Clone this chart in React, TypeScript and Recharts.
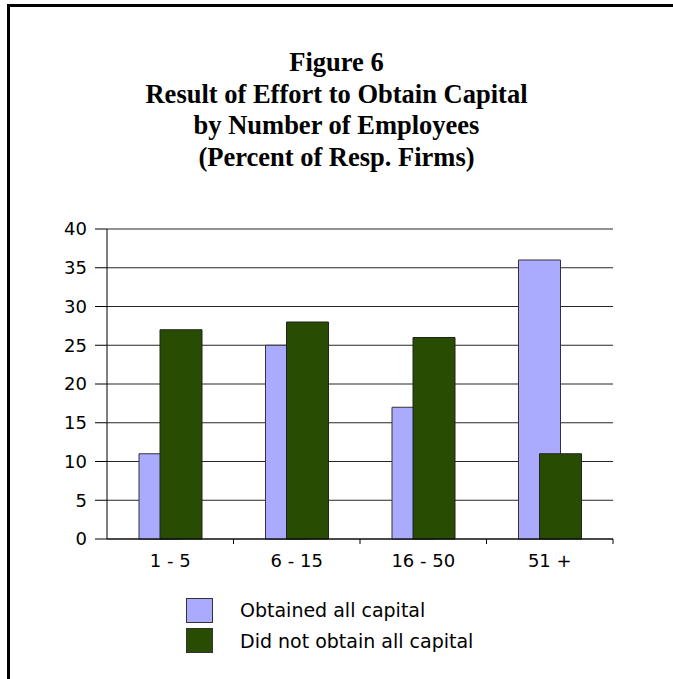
import React from 'react';
import { BarChart, Bar, XAxis, YAxis, CartesianGrid } from 'recharts';

const categories = ['1 - 5', '6 - 15', '16 - 50', '51 +'];
const obtainedAll = [11, 25, 17, 36];
const notObtainedAll = [27, 28, 26, 11];
const yTicks = [0, 5, 10, 15, 20, 25, 30, 35, 40];
const titleLines = [
  'Figure 6',
  'Result of Effort to Obtain Capital',
  'by Number of Employees',
  '(Percent of Resp. Firms)',
];
const seriesNames = ['Obtained all capital', 'Did not obtain all capital'];

const data = categories.map((name, i) => ({
  name,
  obtained: obtainedAll[i],
  notObtained: notObtainedAll[i],
}));

const W = 673;
const H = 679;
const yAxisWidth = 50;
const xAxisHeight = 30;
const margin = { top: 229, right: 60, bottom: 140 - xAxisHeight, left: 57 };
const bandWidth = (W - margin.left - yAxisWidth - margin.right) / categories.length;

const colors = { obtained: '#AAAAFF', notObtained: '#284C02' };
const sans = "'DejaVu Sans', Arial, sans-serif";

function XTick(props: any) {
  const { x, y, payload } = props;
  const right = x + bandWidth / 2;
  return (
    <g>
      <line x1={right} y1={y - 8} x2={right} y2={y - 3} stroke="#000" />
      <text x={x} y={y + 20} textAnchor="middle" fontSize={18} fill="#000" fontFamily={sans}>
        {payload.value}
      </text>
    </g>
  );
}

function LegendBox() {
  const fills = [colors.obtained, colors.notObtained];
  return (
    <div style={{ position: 'absolute', left: 186, top: 597, width: 400, height: 60 }}>
      {seriesNames.map((n, i) => (
        <div key={n} style={{ position: 'absolute', left: 0, top: i * 30.5, height: 26, display: 'flex', alignItems: 'center' }}>
          <div style={{ width: 27, height: 25, background: fills[i], border: '1px solid #333', boxSizing: 'border-box' }} />
          <span style={{ marginLeft: 27, fontSize: 19, color: '#000', fontFamily: sans, whiteSpace: 'nowrap' }}>{n}</span>
        </div>
      ))}
    </div>
  );
}

export default function App() {
  return (
    <div style={{ position: 'absolute', left: 0, top: 0, width: W, height: H, background: '#fff', overflow: 'hidden' }}>
      <div style={{ position: 'absolute', left: 7, top: 4, width: W, height: H, borderTop: '3px solid #000', borderLeft: '3px solid #000' }} />
      <div style={{ position: 'absolute', left: 0, top: 47, width: W, textAlign: 'center', fontFamily: "'Liberation Serif', 'Times New Roman', serif", fontWeight: 'bold', fontSize: 26.5, lineHeight: '31.5px', color: '#000' }}>
        {titleLines.map((t) => (
          <div key={t}>{t}</div>
        ))}
      </div>
      <div style={{ position: 'absolute', left: 0, top: 0 }}>
        <BarChart width={W} height={H} data={data} margin={margin} barSize={42} barGap={-21} barCategoryGap={0}>
          <CartesianGrid vertical={false} stroke="#000" strokeOpacity={0.85} />
          <XAxis
            dataKey="name"
            height={xAxisHeight}
            axisLine={{ stroke: '#000' }}
            tickLine={false}
            tick={<XTick />}
            interval={0}
          />
          <YAxis
            width={yAxisWidth}
            domain={[0, 40]}
            ticks={yTicks}
            interval={0}
            axisLine={{ stroke: '#000' }}
            tickLine={{ stroke: '#000' }}
            tickSize={12}
            tickMargin={8}
            tick={{ fill: '#000', fontSize: 18, fontFamily: sans }}
          />
          <Bar dataKey="obtained" name={seriesNames[0]} fill={colors.obtained} stroke="#333" strokeWidth={1} isAnimationActive={false} />
          <Bar dataKey="notObtained" name={seriesNames[1]} fill={colors.notObtained} stroke="#222" strokeWidth={1} isAnimationActive={false} />
        </BarChart>
      </div>
      <LegendBox />
    </div>
  );
}
